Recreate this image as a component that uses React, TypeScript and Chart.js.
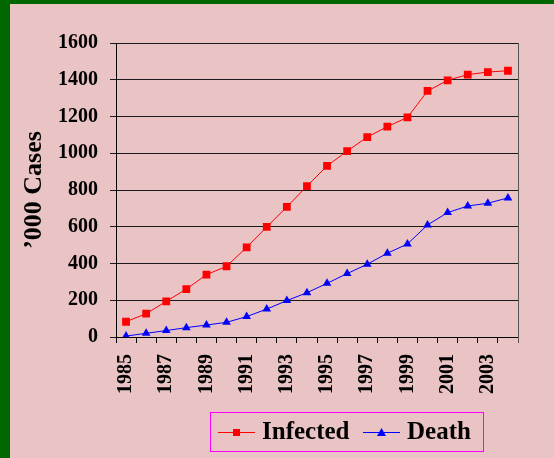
import React, { useEffect, useRef } from 'react';
import { Chart, registerables } from 'chart.js';

Chart.register(...registerables);

const years = ['1985', '1986', '1987', '1988', '1989', '1990', '1991', '1992', '1993', '1994', '1995', '1996', '1997', '1998', '1999', '2000', '2001', '2002', '2003', '2004'];
const infected = [83, 127, 194, 261, 339, 385, 488, 599, 708, 821, 931, 1012, 1088, 1145, 1195, 1339, 1397, 1428, 1442, 1449];
const death = [5, 20, 35, 51, 65, 80, 111, 152, 198, 241, 292, 345, 396, 456, 506, 610, 677, 713, 728, 757];
const yMin = 0;
const yMax = 1600;
const yStep = 200;
const seriesNames = ['Infected', 'Death'];
const yTitle = '\u2019000 Cases';

const FONT = "'Liberation Serif', 'Times New Roman', serif";

const framePlugin = {
  id: 'frame',
  beforeDraw(chart: any) {
    const { ctx, width, height } = chart;
    ctx.save();
    ctx.fillStyle = '#EAC3C5';
    ctx.fillRect(0, 0, width, height);
    ctx.fillStyle = '#006600';
    ctx.fillRect(0, 0, width, 4);
    ctx.fillRect(0, 0, 10, height);
    ctx.restore();
  },
  afterDraw(chart: any) {
    const { ctx, chartArea } = chart;
    ctx.save();
    // right border of plot area
    ctx.strokeStyle = '#555555';
    ctx.lineWidth = 1;
    ctx.beginPath();
    ctx.moveTo(Math.round(chartArea.right) + 0.5, chartArea.top);
    ctx.lineTo(Math.round(chartArea.right) + 0.5, chartArea.bottom + 6);
    ctx.stroke();

    // legend
    const bx = 210, by = 412, bw = 273, bh = 39;
    ctx.strokeStyle = '#FF00FF';
    ctx.lineWidth = 1;
    ctx.strokeRect(bx + 0.5, by + 0.5, bw, bh);
    const cy = by + 20;
    const items = [
      { x0: 218, label: seriesNames[0], ds: chart.data.datasets[0], tx: 262 },
      { x0: 363, label: seriesNames[1], ds: chart.data.datasets[1], tx: 407 },
    ];
    items.forEach((it) => {
      ctx.strokeStyle = it.ds.borderColor;
      ctx.lineWidth = 1;
      ctx.beginPath();
      ctx.moveTo(it.x0, cy + 0.5);
      ctx.lineTo(it.x0 + 37, cy + 0.5);
      ctx.stroke();
      ctx.fillStyle = it.ds.backgroundColor;
      const mx = it.x0 + 18.5;
      if (it.ds.pointStyle === 'rect') {
        ctx.fillRect(mx - 3.5, cy - 3, 7, 7);
      } else {
        ctx.beginPath();
        ctx.moveTo(mx, cy - 4);
        ctx.lineTo(mx + 4.5, cy + 4);
        ctx.lineTo(mx - 4.5, cy + 4);
        ctx.closePath();
        ctx.fill();
      }
      ctx.fillStyle = '#000000';
      ctx.font = `bold 25px ${FONT}`;
      ctx.textBaseline = 'middle';
      ctx.textAlign = 'left';
      ctx.fillText(it.label, it.tx, cy + 1);
    });
    ctx.restore();
  },
};

export default function App() {
  const ref = useRef<HTMLCanvasElement>(null);
  useEffect(() => {
    document.body.style.margin = '0';
    const chart = new Chart(ref.current as HTMLCanvasElement, {
      type: 'line',
      data: {
        labels: years,
        datasets: [
          {
            label: seriesNames[0],
            data: infected,
            borderColor: '#FF0000',
            backgroundColor: '#FF0000',
            borderWidth: 1,
            pointStyle: 'rect',
            pointRadius: 5.5,
            pointBorderWidth: 0,
            tension: 0,
          },
          {
            label: seriesNames[1],
            data: death,
            borderColor: '#0000FF',
            backgroundColor: '#0000FF',
            borderWidth: 1,
            pointStyle: 'triangle',
            pointRadius: 5,
            pointBorderWidth: 0,
            tension: 0,
          },
        ],
      },
      options: {
        animation: false,
        responsive: false,
        maintainAspectRatio: false,
        layout: { padding: { left: 10, top: 43, right: 36, bottom: 0 } },
        plugins: { legend: { display: false }, tooltip: { enabled: false } },
        scales: {
          x: {
            type: 'category',
            offset: true,
            grid: {
              offset: true,
              drawOnChartArea: false,
              drawTicks: true,
              tickLength: 6,
              color: (c: any) => (c.index === years.length ? '#555555' : '#000000'),
              lineWidth: 1,
            },
            border: { display: true, color: '#000000', width: 1 },
            ticks: {
              autoSkip: false,
              minRotation: 90,
              maxRotation: 90,
              padding: 11,
              color: '#000000',
              font: { family: FONT, size: 20, weight: 'bold' },
              callback: (_v: any, i: number) => (i % 2 === 0 ? years[i] : ''),
            },
            afterFit: (s: any) => {
              s.height = 121;
            },
          },
          y: {
            min: yMin,
            max: yMax,
            grid: {
              color: '#1a1a1a',
              lineWidth: 1,
              drawTicks: true,
              tickLength: 6,
            },
            border: { display: true, color: '#000000', width: 1 },
            ticks: {
              stepSize: yStep,
              padding: 12,
              color: '#000000',
              font: { family: FONT, size: 20, weight: 'bold' },
              callback: (v: any) => String(v),
            },
            title: {
              display: true,
              text: yTitle,
              color: '#000000',
              font: { family: FONT, size: 26, weight: 'bold' },
              padding: { top: 9, bottom: 0 },
            },
            afterFit: (s: any) => {
              s.width = 106;
            },
          },
        },
      },
      plugins: [framePlugin],
    });
    return () => chart.destroy();
  }, []);
  return <canvas ref={ref} width={554} height={458} style={{ display: 'block', width: 554, height: 458 }} />;
}
